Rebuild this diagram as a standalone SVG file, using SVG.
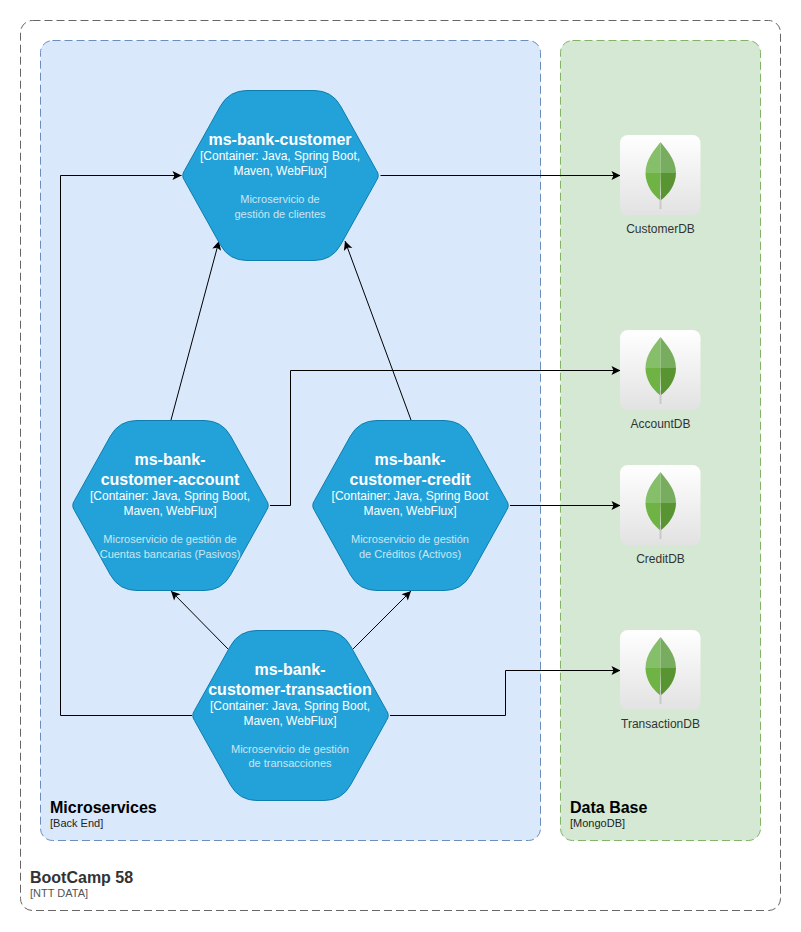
<svg xmlns="http://www.w3.org/2000/svg" xmlns:xlink="http://www.w3.org/1999/xlink" width="801" height="932" viewBox="0 0 801 932">
<style>
text{font-family:"Liberation Sans",Arial,sans-serif}
.bound{stroke-dasharray:8 4;stroke-width:1}
.hex{fill:#23a2d9;stroke:#0e7dad;stroke-width:1}
.t{font-size:16px;font-weight:bold;fill:#fff;text-anchor:middle}
.c{font-size:12px;fill:#fff;text-anchor:middle}
.d{font-size:11px;fill:#cce5f2;text-anchor:middle}
.gt{font-size:16px;font-weight:bold}
.gs{font-size:11px}
.db{font-size:12px;fill:#333;text-anchor:middle}
.edge{fill:none;stroke:#000;stroke-width:1}
</style>
<defs>
<marker id="arrow" viewBox="0 0 10 10" refX="10" refY="5" markerWidth="10" markerHeight="10" markerUnits="userSpaceOnUse" orient="auto"><path d="M1,0.500 L10,5 L1,9.500 L3,5 Z" fill="#000"/></marker>
<linearGradient id="tile" x1="0" y1="0" x2="0" y2="1"><stop offset="0" stop-color="#ffffff"/><stop offset="1" stop-color="#e2e2e2"/></linearGradient>
<path id="hexagon" class="hex" d="M2.500,80 Q-1,85 2.500,90 L38.300,154.250 Q47,170 65,170 L132,170 Q150,170 158.700,154.250 L194.500,90 Q198,85 194.500,80 L158.700,15.750 Q150,0 132,0 L65,0 Q47,0 38.300,15.750 Z"/>
<g id="mongo">
<rect x="0" y="0" width="80.500" height="80" rx="8" fill="url(#tile)"/>
<rect x="39.500" y="60" width="2" height="14" fill="#c9c9c9"/>
<path d="M40.500,7 C36,13 25.500,24 25.500,38 L40.500,38 Z" fill="#86bf6a"/>
<path d="M40.500,7 C45,13 56,24 56,38 L40.500,38 Z" fill="#78ad60"/>
<path d="M25.500,38 C25.500,50 33,60 40,65 L40.500,38 Z" fill="#6fb344"/>
<path d="M56,38 C56,50 48,60 41,65 L40.500,38 Z" fill="#599432"/>
</g>
</defs>
<rect id="bootcamp" class="bound" x="20.500" y="20.500" width="760" height="890" rx="12" fill="#fff" stroke="#666"/>
<g id="microservices">
<rect class="bound" x="40.500" y="40.500" width="500" height="800" rx="12" fill="#dae8fc" stroke="#6c8ebf"/>
<text class="gt" x="50" y="813" fill="#000">Microservices</text>
<text class="gs" x="50" y="827" fill="#222">[Back End]</text>
</g>
<g id="database">
<rect class="bound" x="560.500" y="40.500" width="200" height="800" rx="12" fill="#d5e8d4" stroke="#82b366"/>
<text class="gt" x="570" y="813" fill="#000">Data Base</text>
<text class="gs" x="570" y="827" fill="#222">[MongoDB]</text>
</g>
<g id="bootcamp-label">
<text class="gt" x="30" y="883" fill="#333">BootCamp 58</text>
<text class="gs" x="30" y="897" fill="#555">[NTT DATA]</text>
</g>
<g id="connectors">
<path class="edge" marker-end="url(#arrow)" d="M380.500,175.500 H620.500"/>
<path class="edge" marker-end="url(#arrow)" d="M171,420 L219,241"/>
<path class="edge" marker-end="url(#arrow)" d="M411,420 L345,241"/>
<path class="edge" marker-end="url(#arrow)" d="M270,505.500 H290.500 V370.500 H620.500"/>
<path class="edge" marker-end="url(#arrow)" d="M510,505.500 H620.500"/>
<path class="edge" marker-end="url(#arrow)" d="M229,650 L171,591"/>
<path class="edge" marker-end="url(#arrow)" d="M352,650 L411,591"/>
<path class="edge" marker-end="url(#arrow)" d="M192,715.500 H60.500 V175.500 H181.500"/>
<path class="edge" marker-end="url(#arrow)" d="M390,715.500 H505.500 V670.500 H620.500"/>
</g>
<g id="ms-bank-customer">
<use href="#hexagon" x="182" y="90.500"/>
<text class="t" x="280" y="145">ms-bank-customer</text>
<text class="c" x="280" y="160">[Container: Java, Spring Boot,</text>
<text class="c" x="280" y="175">Maven, WebFlux]</text>
<text class="d" x="280" y="203">Microservicio de</text>
<text class="d" x="280" y="218">gestión de clientes</text>
</g>
<g id="ms-bank-customer-account">
<use href="#hexagon" x="72" y="420.500"/>
<text class="t" x="170" y="465">ms-bank-</text>
<text class="t" x="170" y="485">customer-account</text>
<text class="c" x="170" y="500">[Container: Java, Spring Boot,</text>
<text class="c" x="170" y="515">Maven, WebFlux]</text>
<text class="d" x="170" y="543">Microservicio de gestión de</text>
<text class="d" x="170" y="558">Cuentas bancarias (Pasivos)</text>
</g>
<g id="ms-bank-customer-credit">
<use href="#hexagon" x="312" y="420.500"/>
<text class="t" x="410" y="465">ms-bank-</text>
<text class="t" x="410" y="485">customer-credit</text>
<text class="c" x="410" y="500">[Container: Java, Spring Boot</text>
<text class="c" x="410" y="515">Maven, WebFlux]</text>
<text class="d" x="410" y="543">Microservicio de gestión</text>
<text class="d" x="410" y="558">de Créditos (Activos)</text>
</g>
<g id="ms-bank-customer-transaction">
<use href="#hexagon" x="192" y="630.500"/>
<text class="t" x="290" y="675">ms-bank-</text>
<text class="t" x="290" y="695">customer-transaction</text>
<text class="c" x="290" y="710">[Container: Java, Spring Boot,</text>
<text class="c" x="290" y="725">Maven, WebFlux]</text>
<text class="d" x="290" y="753">Microservicio de gestión</text>
<text class="d" x="290" y="767">de transacciones</text>
</g>
<g id="CustomerDB">
<use href="#mongo" x="620" y="135"/>
<text class="db" x="660.500" y="233">CustomerDB</text>
</g>
<g id="AccountDB">
<use href="#mongo" x="620" y="330"/>
<text class="db" x="660.500" y="428">AccountDB</text>
</g>
<g id="CreditDB">
<use href="#mongo" x="620" y="465"/>
<text class="db" x="660.500" y="563">CreditDB</text>
</g>
<g id="TransactionDB">
<use href="#mongo" x="620" y="630"/>
<text class="db" x="660.500" y="728">TransactionDB</text>
</g>
</svg>
